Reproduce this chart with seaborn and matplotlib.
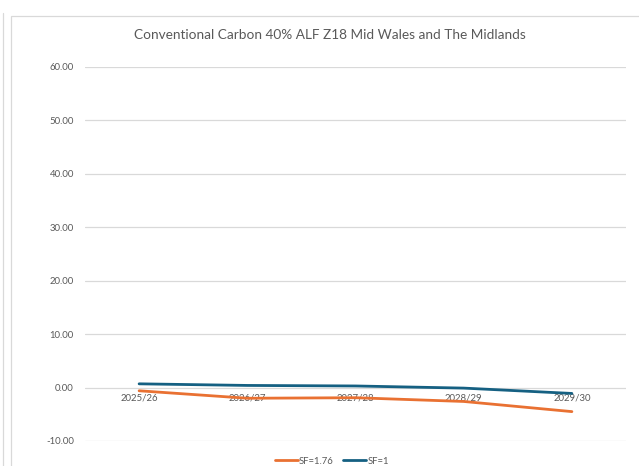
import matplotlib
matplotlib.use("Agg")
import matplotlib.pyplot as plt
from matplotlib.patches import Rectangle
from matplotlib.lines import Line2D
import pandas as pd
import seaborn as sns

# Chart data
years = ["2025/26", "2026/27", "2027/28", "2028/29", "2029/30"]
sf_176 = [-0.6, -2.0, -1.9, -2.6, -4.5]
sf_1 = [0.7, 0.4, 0.3, -0.1, -1.1]
series_names = ["SF=1.76", "SF=1"]
y_ticks = [-10, 0, 10, 20, 30, 40, 50, 60]
title = "Conventional Carbon 40% ALF Z18 Mid Wales and The Midlands"

colors = {"SF=1.76": "#E97132", "SF=1": "#156082"}
text_gray = "#595959"
grid_gray = "#D9D9D9"

df = pd.concat([
    pd.DataFrame({"year": years, "value": sf_176, "series": series_names[0]}),
    pd.DataFrame({"year": years, "value": sf_1, "series": series_names[1]}),
])
df["x"] = df["year"].map({y: i for i, y in enumerate(years)})

sns.set_style("white")
plt.rcParams["font.family"] = ["Lato", "DejaVu Sans"]

W, H = 639, 466
fig = plt.figure(figsize=(W / 100, H / 100), dpi=100)
ax = fig.add_axes([85 / W, 1 - 441 / H, (626 - 85) / W, (441 - 67) / H])

sns.lineplot(data=df, x="x", y="value", hue="series", palette=colors,
             hue_order=series_names, linewidth=2.0, ax=ax, legend=False,
             sort=False)

ax.set_xlim(-0.5, len(years) - 0.5)
ax.set_ylim(y_ticks[0], y_ticks[-1])
ax.set_yticks(y_ticks)
ax.set_yticklabels([f"{v:.2f}" for v in y_ticks])
ax.set_xticks(range(len(years)))
ax.set_xticklabels(years)
ax.set_xlabel("")
ax.set_ylabel("")

# Horizontal gridlines only
ax.grid(axis="y", color=grid_gray, linewidth=0.9)
ax.grid(axis="x", visible=False)
ax.set_axisbelow(True)
for side in ["left", "right", "top"]:
    ax.spines[side].set_visible(False)
# Category labels sit on the zero line
ax.spines["bottom"].set_position(("data", 0))
ax.spines["bottom"].set_visible(False)

ax.tick_params(axis="both", length=0, colors=text_gray, labelsize=6.9)
ax.tick_params(axis="y", pad=8)
ax.tick_params(axis="x", pad=4)

fig.text(330 / W, 1 - 35 / H, title, ha="center", va="center",
         fontsize=9.8, color=text_gray)

handles = [Line2D([], [], color=colors[s], linewidth=2.0) for s in series_names]
fig.legend(handles, series_names, loc="center", bbox_to_anchor=(332 / W, 1 - 461 / H),
           ncol=2, frameon=False, fontsize=6.8, labelcolor=text_gray,
           handlelength=2.4, handletextpad=0.15, columnspacing=1.0,
           borderpad=0, borderaxespad=0)

# Chart frame and neighbouring panel edge
fig.add_artist(Rectangle((11.3 / W, -0.1), 1.0, 1 - 15.7 / H + 0.1,
                         transform=fig.transFigure, fill=False,
                         edgecolor=grid_gray, linewidth=0.9))
fig.add_artist(Line2D([2.7 / W, 2.7 / W], [0, 1 - 13 / H],
                      transform=fig.transFigure, color=grid_gray, linewidth=0.9))

fig.savefig("out.png", dpi=100, facecolor="white")
